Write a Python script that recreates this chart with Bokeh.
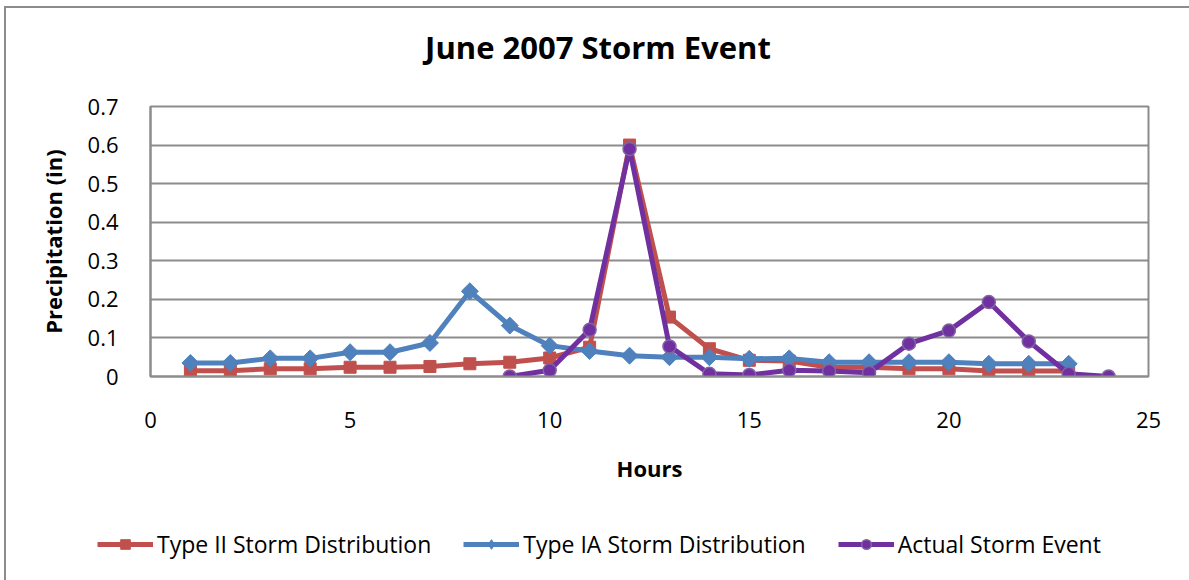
from bokeh.plotting import figure
from bokeh.models import Legend, LegendItem, FixedTicker, Label
from bokeh.layouts import column
from bokeh.embed import file_html
from bokeh.resources import INLINE
import math

hours_type2 = list(range(1, 24))
type2 = [0.015, 0.015, 0.020, 0.020, 0.024, 0.024, 0.026, 0.033, 0.037, 0.048,
         0.076, 0.600, 0.154, 0.072, 0.042, 0.040, 0.024, 0.024, 0.020, 0.020,
         0.014, 0.014, 0.014]
hours_type1a = list(range(1, 24))
type1a = [0.035, 0.035, 0.047, 0.047, 0.063, 0.063, 0.087, 0.221, 0.132, 0.080,
          0.066, 0.054, 0.050, 0.050, 0.046, 0.047, 0.037, 0.037, 0.037, 0.037,
          0.033, 0.033, 0.033]
hours_actual = list(range(9, 25))
actual = [0.000, 0.016, 0.121, 0.590, 0.078, 0.007, 0.004, 0.016, 0.014, 0.010,
          0.085, 0.119, 0.193, 0.091, 0.007, 0.000]
x_ticks = [0, 5, 10, 15, 20, 25]
y_ticks = [0, 0.1, 0.2, 0.3, 0.4, 0.5, 0.6, 0.7]
series_names = ["Type II Storm Distribution", "Type IA Storm Distribution",
                "Actual Storm Event"]
title_text = "June 2007 Storm Event"

FONT = "Open Sans"
RED = "#C0504D"
BLUE = "#4F81BD"
PURPLE = "#7030A0"
GRID = "#8c8c8c"
W = 1183

# ---- title strip ----
t = figure(width=W, height=80, output_backend="svg", toolbar_location=None,
           x_range=(0, W), y_range=(0, 80), min_border=0, min_border_left=0,
           min_border_right=0, min_border_top=0, min_border_bottom=0)
t.axis.visible = False
t.grid.grid_line_color = None
t.outline_line_color = None
t.frame_align = False
t.add_layout(Label(x=591.5, y=41.5, text=title_text, text_font=FONT,
                   text_font_size="31px", text_font_style="bold",
                   text_align="center", text_baseline="alphabetic",
                   text_color="black"))

# ---- main chart ----
p = figure(width=W, height=400, output_backend="svg", toolbar_location=None,
           x_range=(0, 25), y_range=(0, 0.7),
           min_border_left=144, min_border_right=41, min_border_top=18,
           min_border_bottom=112)
p.frame_align = False
p.outline_line_color = GRID
p.outline_line_width = 2

p.xgrid.grid_line_color = None
p.ygrid.grid_line_color = GRID
p.ygrid.grid_line_width = 2
p.xaxis.ticker = FixedTicker(ticks=x_ticks)
p.yaxis.ticker = FixedTicker(ticks=y_ticks)
for ax in (p.xaxis, p.yaxis):
    ax.axis_line_color = GRID
    ax.axis_line_width = 2
    ax.major_tick_line_color = None
    ax.minor_tick_line_color = None
    ax.major_label_text_font = FONT
    ax.major_label_text_font_size = "22px"
    ax.major_label_text_color = "black"
    ax.axis_label_text_font = FONT
    ax.axis_label_text_font_size = "22px"
    ax.axis_label_text_font_style = "bold"
    ax.axis_label_text_color = "black"
p.xaxis.axis_label = "Hours"
p.yaxis.axis_label = "Precipitation (in)"
p.xaxis.major_label_standoff = 29
p.xaxis.axis_label_standoff = 22
p.yaxis.major_label_standoff = 26
p.yaxis.axis_label_standoff = 17

def draw(fig, diamond_rotated):
    a = fig.line(hours_type2, type2, line_color=RED, line_width=5)
    b = fig.scatter(hours_type2, type2, marker="square", size=12, fill_color=RED, line_color=RED)
    c = fig.line(hours_type1a, type1a, line_color=BLUE, line_width=5)
    if diamond_rotated:
        d = fig.scatter(hours_type1a, type1a, marker="square", size=12, angle=math.pi / 4,
                        fill_color=BLUE, line_color=BLUE)
    else:
        d = fig.scatter(hours_type1a, type1a, marker="diamond", size=17,
                        fill_color=BLUE, line_color=BLUE)
    e = fig.line(hours_actual, actual, line_color=PURPLE, line_width=5)
    f = fig.scatter(hours_actual, actual, marker="circle", size=13, fill_color=PURPLE,
                    line_color="#8064A2", line_width=1.5)
    return [(a, b), (c, d), (e, f)]

draw(p, True)

# ---- legend strip below the chart (its own small figure; data lies outside its ranges) ----
q = figure(width=W, height=92, output_backend="svg", toolbar_location=None,
           x_range=(1000, 1001), y_range=(1000, 1001),
           min_border=0, min_border_left=0, min_border_right=0,
           min_border_top=0, min_border_bottom=0)
q.axis.visible = False
q.grid.grid_line_color = None
q.outline_line_color = None
q.frame_align = False
pairs = draw(q, False)
legend = Legend(items=[LegendItem(label=n, renderers=list(r)) for n, r in zip(series_names, pairs)],
                orientation="horizontal", location=(91, 20), padding=0, margin=0,
                spacing=32, glyph_width=56, glyph_height=24, label_height=24,
                label_standoff=4, label_text_font=FONT, label_text_font_size="23px",
                label_text_color="black", border_line_color=None,
                background_fill_alpha=0)
q.add_layout(legend)

layout = column(t, p, q, spacing=0)
layout.margin = (6, 0, 0, 4)
layout.styles = {"border": "2px solid #8c8c8c"}

open("out.html", "w").write(file_html(layout, INLINE))
